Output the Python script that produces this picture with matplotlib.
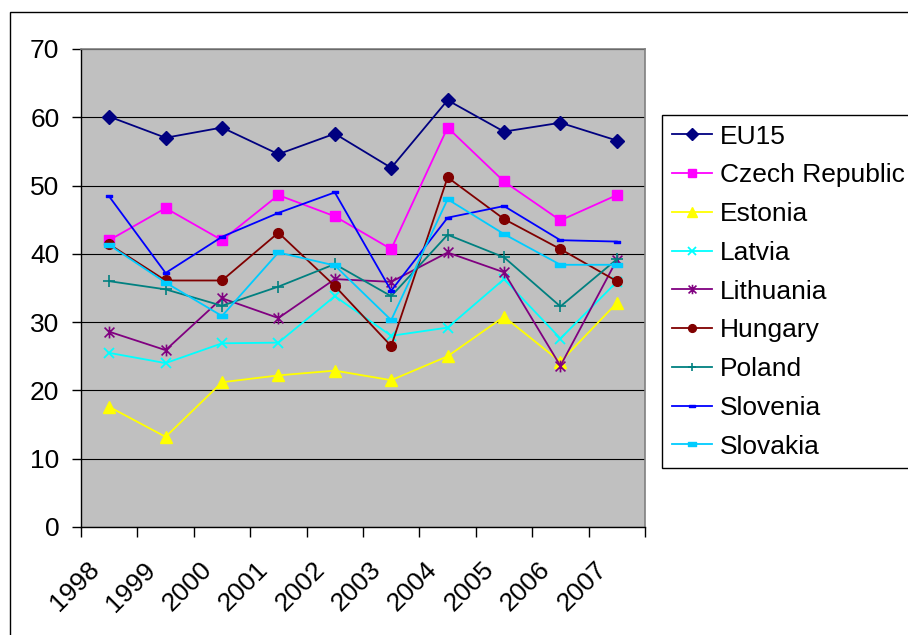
import matplotlib
matplotlib.use("Agg")
import matplotlib.pyplot as plt
from matplotlib.path import Path
from matplotlib.patches import Rectangle
from matplotlib.transforms import ScaledTranslation

years = ["1998", "1999", "2000", "2001", "2002", "2003", "2004", "2005", "2006", "2007"]

eu15 = [60.1, 57.0, 58.5, 54.6, 57.6, 52.6, 62.5, 57.9, 59.2, 56.6]
czech = [42.0, 46.7, 42.0, 48.6, 45.5, 40.7, 58.5, 50.6, 44.9, 48.6]
estonia = [17.6, 13.2, 21.2, 22.2, 22.9, 21.5, 25.0, 30.8, 24.2, 32.8]
latvia = [25.5, 24.0, 26.9, 27.0, 33.8, 28.0, 29.2, 36.3, 27.6, 35.9]
lithuania = [28.6, 25.9, 33.5, 30.6, 36.3, 35.9, 40.2, 37.3, 23.6, 39.1]
hungary = [41.4, 36.1, 36.1, 43.1, 35.3, 26.5, 51.2, 45.1, 40.7, 36.0]
poland = [36.0, 34.8, 32.4, 35.2, 38.5, 33.8, 42.8, 39.5, 32.3, 39.2]
slovenia = [48.4, 37.2, 42.5, 46.0, 49.0, 34.6, 45.3, 47.0, 42.0, 41.8]
slovakia = [41.3, 35.8, 30.9, 40.2, 38.3, 30.3, 48.0, 42.9, 38.4, 38.4]

names = ["EU15", "Czech Republic", "Estonia", "Latvia", "Lithuania",
         "Hungary", "Poland", "Slovenia", "Slovakia"]
values = [eu15, czech, estonia, latvia, lithuania, hungary, poland, slovenia, slovakia]

plt.rcParams['font.family'] = ['Liberation Sans', 'DejaVu Sans']
FS = 19

W, H = 908, 635
fig = plt.figure(figsize=(W / 100, H / 100), dpi=100)
fig.patch.set_facecolor("white")

# outer chart frame
fig.patches.append(Rectangle((10 / W, -0.1), 1.2, 1.1 - 12 / H, transform=fig.transFigure,
                             fill=False, edgecolor="black", linewidth=1.0))

L, R, T, B = 81, 645, 49, 527
ax = fig.add_axes([L / W, 1 - B / H, (R - L) / W, (B - T) / H])
ax.set_facecolor("#C0C0C0")

asterisk = Path([(-1, -1), (1, 1), (-1, 1), (1, -1), (0, -1.2), (0, 1.2)],
                [Path.MOVETO, Path.LINETO, Path.MOVETO, Path.LINETO, Path.MOVETO, Path.LINETO])
dash = Path([(-1, -0.4), (1, -0.4), (1, 0.4), (-1, 0.4), (-1, -0.4)],
            [Path.MOVETO, Path.LINETO, Path.LINETO, Path.LINETO, Path.CLOSEPOLY])

styles = [
    dict(color="#000080", marker="D", ms=7.5),
    dict(color="#FF00FF", marker="s", ms=7),
    dict(color="#FFFF00", marker="^", ms=8.5),
    dict(color="#00FFFF", marker="x", ms=7, mew=1.3),
    dict(color="#800080", marker=asterisk, ms=8.5, mew=1.2),
    dict(color="#800000", marker="o", ms=7),
    dict(color="#008080", marker="+", ms=8, mew=1.2),
    dict(color="#0000FF", marker=dash, ms=5),
    dict(color="#00CCFF", marker=dash, ms=7),
]

x = list(range(len(years)))
for name, vals, st in zip(names, values, styles):
    ax.plot(x, vals, label=name, linewidth=1.3, zorder=3, **st)

ax.set_xlim(-0.5, len(years) - 0.5)
ax.set_ylim(0, 70)
ax.set_yticks(range(0, 71, 10))
ax.yaxis.grid(True, color="black", linewidth=0.8)
ax.set_axisbelow(True)

for s in ["top", "right"]:
    ax.spines[s].set_color("#808080")
    ax.spines[s].set_linewidth(1.2)
for s in ["left", "bottom"]:
    ax.spines[s].set_color("black")
    ax.spines[s].set_linewidth(1.0)

ax.tick_params(axis="y", direction="out", length=6.5, width=1, pad=9, labelsize=FS)
ax.set_xticks(x)
ax.set_xticks([i - 0.5 for i in range(len(years) + 1)], minor=True)
ax.tick_params(axis="x", which="minor", direction="out", length=7, width=1)
ax.tick_params(axis="x", which="major", length=0, pad=0, labelsize=FS)
ax.set_xticklabels(years, rotation=45, ha="right", va="center", rotation_mode="anchor")
off = ScaledTranslation(-14 / 100, -39 / 100, fig.dpi_scale_trans)
for t in ax.xaxis.get_major_ticks():
    t.label1.set_transform(t.label1.get_transform() + off)

leg = fig.legend(loc="upper left", bbox_to_anchor=(662 / W, 1 - 115 / H), borderaxespad=0,
                 fontsize=FS, frameon=True, fancybox=False, edgecolor="black",
                 framealpha=1, handlelength=1.55, handletextpad=0.3, borderpad=0.36,
                 labelspacing=0.56, markerscale=0.8)
leg.get_frame().set_linewidth(1.0)

fig.savefig("out.png", dpi=100)
